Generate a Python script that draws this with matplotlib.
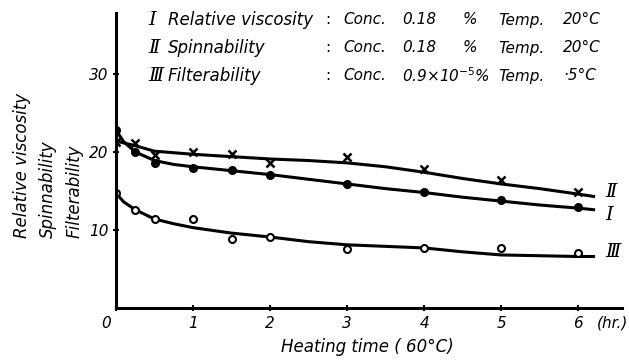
import matplotlib
matplotlib.use("Agg")
from matplotlib import pyplot as plt

# measured points (heating time in hr)
t_pts = [0, 0.25, 0.5, 1, 1.5, 2, 3, 4, 5, 6]
visc_pts = [22.8, 20.0, 18.55, 18.0, 17.7, 17.05, 15.85, 14.9, 13.85, 12.9]       # I
spin_pts = [21.3, 21.1, 19.6, 20.0, 19.7, 18.55, 19.4, 17.8, 16.4, 14.9]          # II
filt_pts = [14.7, 12.6, 11.4, 11.4, 8.9, 9.06, 7.56, 7.65, 7.65, 7.0]             # III

# hand drawn curves
t_curve_I = [0, 0.1, 0.25, 0.5, 0.75, 1, 1.5, 2, 2.5, 3, 3.5, 4, 4.5, 5, 5.5, 6, 6.2]
visc_curve = [22.8, 21.3, 20.0, 18.9, 18.4, 18.1, 17.6, 17.1, 16.5, 15.9, 15.3, 14.8, 14.2, 13.7, 13.2, 12.8, 12.6]
t_curve_II = [0, 0.25, 0.5, 0.75, 1, 1.5, 2, 2.5, 3, 3.5, 4, 4.5, 5, 5.5, 6, 6.2]
spin_curve = [21.4, 20.8, 20.1, 19.9, 19.7, 19.4, 19.1, 18.9, 18.6, 18.1, 17.4, 16.6, 15.9, 15.3, 14.6, 14.3]
t_curve_III = [0, 0.1, 0.25, 0.5, 0.75, 1, 1.5, 2, 2.5, 3, 3.5, 4, 4.5, 5, 5.5, 6, 6.2]
filt_curve = [14.7, 13.6, 12.6, 11.4, 10.8, 10.3, 9.6, 9.1, 8.5, 8.1, 7.9, 7.7, 7.2, 6.8, 6.7, 6.6, 6.6]

x_ticks = [0, 1, 2, 3, 4, 5, 6]
y_ticks = [10, 20, 30]

legend_rows = [
    ("\u2160", "Relative viscosity", "Conc.", "0.18", "%", "Temp.", "20\u00b0C"),
    ("\u2161", "Spinnability", "Conc.", "0.18", "%", "Temp.", "20\u00b0C"),
    ("\u2162", "Filterability", "Conc.", "0.9\u00d710$^{-5}$%", "", "Temp.", "\u00b75\u00b0C"),
]

fig = plt.figure(figsize=(6.29, 3.63), dpi=100)
ax = fig.add_axes([0.1844, 0.1515, 0.8046, 0.8125])
k = "black"
fs = 11

ax.plot(t_curve_I, visc_curve, color=k, lw=2.2)
ax.plot(t_curve_II, spin_curve, color=k, lw=2.2)
ax.plot(t_curve_III, filt_curve, color=k, lw=2.2)
ax.plot(t_pts, visc_pts, "o", color=k, ms=5.5, ls="none")
ax.plot(t_pts, spin_pts, "x", color=k, ms=6, mew=1.8, ls="none")
ax.plot(t_pts, filt_pts, "o", mfc="white", mec=k, ms=5, mew=1.5, ls="none")

ax.set_xlim(0, 6.57)
ax.set_ylim(0, 37.8)
for s in ["top", "right"]:
    ax.spines[s].set_visible(False)
for s in ["left", "bottom"]:
    ax.spines[s].set_linewidth(2.2)

ax.set_xticks(x_ticks)
ax.set_xticklabels([""] + [str(v) for v in x_ticks[1:]])
ax.set_yticks(y_ticks)
ax.set_yticklabels([str(v) for v in y_ticks])
ax.tick_params(direction="inout", length=4, width=1.5, labelsize=fs)
for lab in ax.get_xticklabels() + ax.get_yticklabels():
    lab.set_fontstyle("italic")

# zero at the corner and the unit
fig.text(106 / 629, 1 - 323 / 363, "0", ha="center", va="center", fontsize=fs, style="italic")
fig.text(613 / 629, 1 - 323 / 363, "(hr.)", ha="center", va="center", fontsize=fs, style="italic")
fig.text(367 / 629, 1 - 347 / 363, "Heating time ( 60\u00b0C)", ha="center", va="center",
         fontsize=fs + 1, style="italic")

# stacked y labels
for x_px, txt in [(22, "Relative viscosity"), (48, "Spinnability"), (75, "Filterability")]:
    fig.text(x_px / 629, 1 - 238 / 363, txt, rotation=90, rotation_mode="anchor",
             ha="left", va="center", fontsize=fs + 1, style="italic")

# legend block at the top
cols = [148, 168, 343, 402, 463, 498, 563]
for i, row in enumerate(legend_rows):
    y = 1 - (20 + i * 28) / 363
    fig.text(cols[0] / 629, y, row[0], ha="left", va="center", fontsize=fs + 3,
             family="DejaVu Serif", style="italic")
    fig.text(cols[1] / 629, y, row[1], ha="left", va="center", fontsize=fs + 1, style="italic")
    fig.text(325 / 629, y, ":", ha="left", va="center", fontsize=fs)
    for c, txt in zip(cols[2:], row[2:]):
        fig.text(c / 629, y, txt, ha="left", va="center", fontsize=fs, style="italic")

# curve end labels
for y_px, txt in [(192, "\u2161"), (215, "\u2160"), (252, "\u2162")]:
    fig.text(605 / 629, 1 - y_px / 363, txt, ha="left", va="center", fontsize=fs + 3,
             family="DejaVu Serif", style="italic")

fig.savefig("out.png", dpi=100)
